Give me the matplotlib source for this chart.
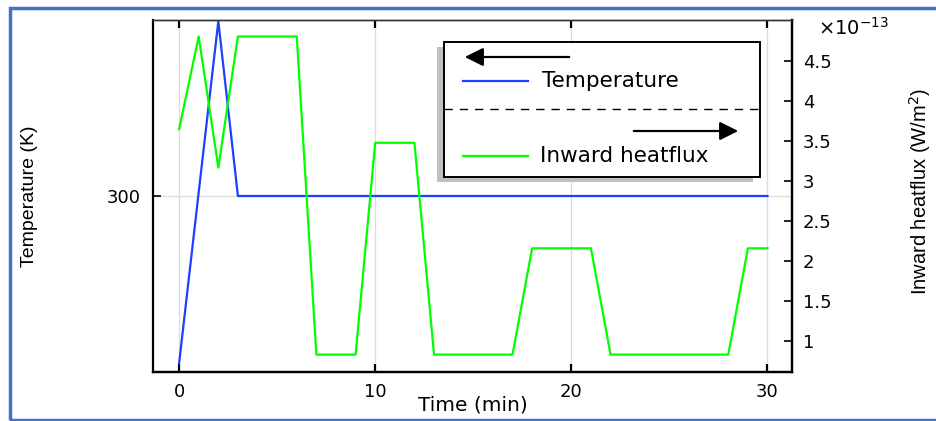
import matplotlib
matplotlib.use("Agg")
import matplotlib.pyplot as plt
from matplotlib.patches import Rectangle, FancyArrowPatch
from matplotlib.lines import Line2D

# ---- data ----
time_T = [0, 2, 3, 30]
temperature = [293.15, 307.15, 300.0, 300.0]

time_q = [0, 1, 2, 3, 6, 7, 9, 10, 12, 13, 17, 18, 21, 22, 28, 29, 30]
heatflux_e13 = [3.65, 4.81, 3.17, 4.81, 4.81, 0.83, 0.83, 3.48, 3.48, 0.83,
                0.83, 2.16, 2.16, 0.83, 0.83, 2.16, 2.16]

x_ticks = [0, 10, 20, 30]
left_ticks = [300]
right_ticks = [1, 1.5, 2, 2.5, 3, 3.5, 4, 4.5]
right_ticklabels = ["1", "1.5", "2", "2.5", "3", "3.5", "4", "4.5"]

W, H = 936, 421
fig = plt.figure(figsize=(W / 100, H / 100), dpi=100)

def px(x0, y0, x1, y1):
    return [x0 / W, 1 - y1 / H, (x1 - x0) / W, (y1 - y0) / H]

ax = fig.add_axes(px(153, 20, 792, 372))
ax2 = ax.twinx()

tick_font = dict(family="DejaVu Sans", size=13)

ax.plot(time_T, temperature, color="#1f3fff", lw=1.6, zorder=3)
ax2.plot(time_q, heatflux_e13, color="#00ff00", lw=1.6, zorder=3)

ax.set_xlim(-1.33, 31.25)
ax.set_ylim(292.8, 307.2)
ax2.set_ylim(0.6125, 5.016)

ax.set_xticks(x_ticks)
ax.set_xticklabels([str(t) for t in x_ticks], **tick_font)
ax.set_yticks(left_ticks)
ax.set_yticklabels([str(t) for t in left_ticks], **tick_font)
ax2.set_yticks(right_ticks)
ax2.set_yticklabels(right_ticklabels, **tick_font)

ax.grid(True, color="#dcdcdc", lw=0.9)
ax.set_axisbelow(True)

ax.tick_params(axis="x", direction="in", length=6, width=1.6, top=True, pad=8)
ax.tick_params(axis="y", direction="in", length=6, width=1.2, pad=9)
ax2.tick_params(axis="y", direction="in", length=6, width=1.2, pad=8)

for a in (ax, ax2):
    for s in ("left", "bottom", "right"):
        a.spines[s].set_linewidth(1.6)
        a.spines[s].set_color("black")
    a.spines["top"].set_linewidth(1.0)
    a.spines["top"].set_color("#333333")
ax2.spines["left"].set_visible(False)

fig.text(473 / W, 1 - 405 / H, "Time (min)", ha="center", va="center",
         family="DejaVu Sans", size=14.5)
fig.text(30 / W, 1 - 196 / H, "Temperature (K)", rotation=90, ha="center",
         va="center", family="Liberation Sans", size=14)
fig.text(920 / W, 1 - 191 / H, "Inward heatflux (W/m$^2$)", rotation=90,
         ha="center", va="center", family="Liberation Sans", size=14.5)
fig.text(818 / W, 1 - 28 / H, r"$\times$10$^{-13}$", ha="left", va="center",
         family="DejaVu Sans", size=14)

# ---- legend (drawn manually in figure pixels) ----
def fx(x):
    return x / W

def fy(y):
    return 1 - y / H

fig.patches.append(Rectangle((fx(437), fy(182)), (760 - 444) / W, (177 - 42) / H,
                             transform=fig.transFigure, facecolor="#c0c0c0",
                             edgecolor="none", zorder=5))
fig.patches.append(Rectangle((fx(444), fy(177)), (760 - 444) / W, (177 - 42) / H,
                             transform=fig.transFigure, facecolor="white",
                             edgecolor="black", lw=1.4, zorder=6))
fig.patches.append(FancyArrowPatch((fx(572), fy(57)), (fx(462), fy(57)),
                                   transform=fig.transFigure, arrowstyle="-|>,head_length=0.8,head_width=0.4",
                                   mutation_scale=14, color="black", lw=1.6, zorder=7))
fig.lines.append(Line2D([fx(463), fx(528)], [fy(81), fy(81)], transform=fig.transFigure,
                        color="#1f3fff", lw=1.6, zorder=7))
fig.text(fx(542), fy(81), "Temperature", ha="left", va="center",
         family="DejaVu Sans", size=15.5, zorder=7)
fig.lines.append(Line2D([fx(444), fx(760)], [fy(109), fy(109)], transform=fig.transFigure,
                        color="black", lw=1.0, ls=(0, (6, 5)), zorder=7))
fig.patches.append(FancyArrowPatch((fx(631), fy(131)), (fx(741), fy(131)),
                                   transform=fig.transFigure, arrowstyle="-|>,head_length=0.8,head_width=0.4",
                                   mutation_scale=14, color="black", lw=1.6, zorder=7))
fig.lines.append(Line2D([fx(463), fx(528)], [fy(156), fy(156)], transform=fig.transFigure,
                        color="#00ff00", lw=1.6, zorder=7))
fig.text(fx(540), fy(156), "Inward heatflux", ha="left", va="center",
         family="DejaVu Sans", size=15.5, zorder=7)

# ---- outer blue frame ----
fig.patches.append(Rectangle((fx(10), fy(420)), (W + 5 - 10) / W, (420 - 8) / H,
                             transform=fig.transFigure, facecolor="none",
                             edgecolor="#4472c4", lw=2.5, zorder=10, clip_on=False))

fig.savefig("out.png", dpi=100)
